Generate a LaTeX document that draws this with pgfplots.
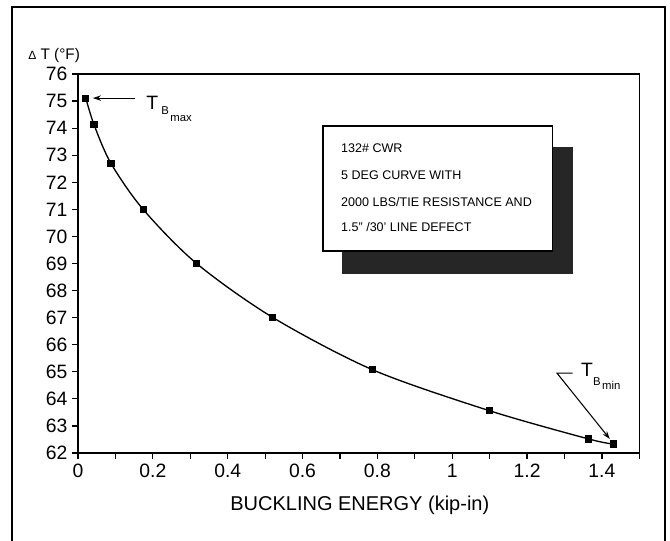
\documentclass[border=0pt]{standalone}
\usepackage{pgfplots}
\pgfplotsset{compat=1.18}
\usepackage{fontspec}
\setmainfont{Liberation Sans}
\usetikzlibrary{arrows.meta}
\begin{document}
\begin{tikzpicture}
\useasboundingbox (-58.5pt,-66pt) rectangle (444pt,339.75pt);
% outer frame (three sides; bottom lies beyond the picture)
\draw[line width=1.8pt] (-49.5pt,-70pt) -- (-49.5pt,334.5pt) -- (440.25pt,334.5pt) -- (440.25pt,-70pt);
\begin{axis}[
  at={(0pt,0pt)}, anchor=south west,
  scale only axis, width=421pt, height=284.25pt,
  xmin=0, xmax=1.5, ymin=62, ymax=76,
  xtick={0,0.2,...,1.4}, minor x tick num=1,
  extra x ticks={1.5}, extra x tick labels={},
  ytick={62,63,...,76},
  xtick pos=bottom, ytick pos=left,
  tick align=outside,
  major tick length=4.5pt, minor tick length=4.5pt,
  axis line style={line width=1.1pt},
  every tick/.style={line width=0.9pt, black},
  /pgf/number format/assume math mode=true,
  tick label style={font=\fontsize{14.5}{14.5}\selectfont},
  clip=false,
]
\addplot[black, line width=1pt, smooth, mark=square*, mark size=2.2pt, mark options={solid}]
  coordinates {
  (0.021,75.10) (0.043,74.12) (0.088,72.70) (0.174,71.00) (0.316,69.01)
  (0.520,67.01) (0.788,65.07) (1.100,63.56) (1.364,62.52) (1.431,62.33)
  };
% legend-like box with shadow
\fill[black!85] (axis cs:0.7053,73.30) rectangle (axis cs:1.3225,68.61);
\draw[fill=white, line width=0.9pt] (axis cs:0.6546,74.079) rectangle (axis cs:1.269,69.461);
\node[anchor=west, inner sep=0pt, font=\fontsize{9.4}{10}\selectfont] at (axis cs:0.7026,73.27) {132\# CWR};
\node[anchor=west, inner sep=0pt, font=\fontsize{9.4}{10}\selectfont] at (axis cs:0.7026,72.27) {5 DEG CURVE WITH};
\node[anchor=west, inner sep=0pt, font=\fontsize{9.4}{10}\selectfont] at (axis cs:0.7026,71.27) {2000 LBS/TIE RESISTANCE AND};
\node[anchor=west, inner sep=0pt, font=\fontsize{9.4}{10}\selectfont] at (axis cs:0.7026,70.35) {1.5" /30' LINE DEFECT};
% T_B max annotation
\draw[-{Stealth[length=6pt,width=4pt]}, line width=0.8pt] (axis cs:0.152,75.11) -- (axis cs:0.040,75.11);
\node[anchor=base west, inner sep=0pt, font=\fontsize{14.5}{14}\selectfont] at (axis cs:0.182,74.67) {T};
\node[anchor=base west, inner sep=0pt, font=\fontsize{8.5}{8}\selectfont] at (axis cs:0.222,74.49) {B};
\node[anchor=base west, inner sep=0pt, font=\fontsize{8.5}{8}\selectfont] at (axis cs:0.246,74.23) {max};
% T_B min annotation
\draw[-{Stealth[length=6pt,width=4pt]}, line width=0.8pt] (axis cs:1.322,64.95) -- (axis cs:1.280,64.95) -- (axis cs:1.421,62.52);
\node[anchor=base west, inner sep=0pt, font=\fontsize{14.5}{14}\selectfont] at (axis cs:1.344,64.81) {T};
\node[anchor=base west, inner sep=0pt, font=\fontsize{8.5}{8}\selectfont] at (axis cs:1.376,64.51) {B};
\node[anchor=base west, inner sep=0pt, font=\fontsize{8.5}{8}\selectfont] at (axis cs:1.400,64.36) {min};
% axis titles
\node[anchor=base west, inner sep=0pt, font=\fontsize{11.5}{12}\selectfont] at (axis cs:-0.1336,76.52) {{\fontsize{9}{9}\selectfont Δ} T (°F)};
\node[anchor=base, inner sep=0pt, font=\fontsize{15}{15}\selectfont] at (axis cs:0.753,59.86) {BUCKLING ENERGY (kip-in)};
\end{axis}
\end{tikzpicture}
\end{document}
